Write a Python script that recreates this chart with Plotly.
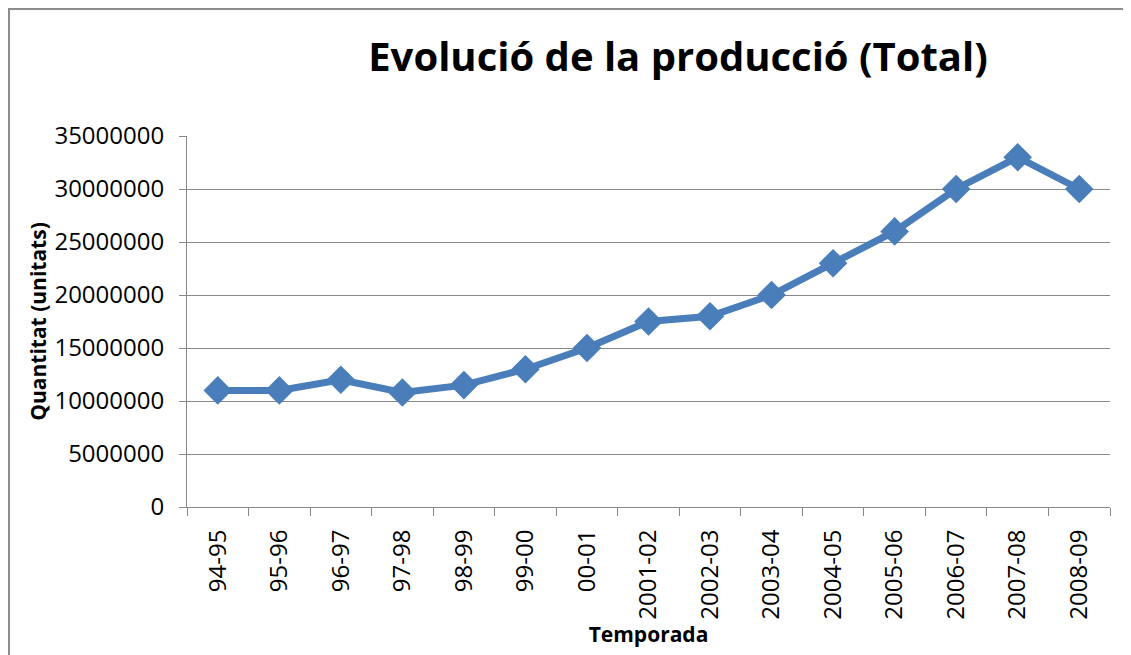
import plotly.graph_objects as go

temporades = ["94-95", "95-96", "96-97", "97-98", "98-99", "99-00", "00-01",
              "2001-02", "2002-03", "2003-04", "2004-05", "2005-06", "2006-07",
              "2007-08", "2008-09"]
quantitat = [11000000, 11000000, 12000000, 10800000, 11500000, 13000000, 15000000,
             17500000, 18000000, 20000000, 23000000, 26000000, 30000000,
             33000000, 30000000]
y_ticks = [0, 5000000, 10000000, 15000000, 20000000, 25000000, 30000000, 35000000]

# page is rendered with an 8px body margin, so figure coords = page coords - 8
W, H = 1131, 655
OFF = 8
ml, mt = 187 - OFF, 136 - OFF
mr = W - (1110 - OFF)
mb = H - (507 - OFF)
pw, ph = W - ml - mr, H - mt - mb

def px_x(x):
    return (x - OFF - ml) / pw

def px_y(y):
    return (H - mb - (y - OFF)) / ph

fig = go.Figure()
fig.add_trace(go.Scatter(
    x=temporades, y=quantitat, mode="lines+markers",
    line=dict(color="#4a7ebb", width=7),
    marker=dict(symbol="diamond", size=22, color="#4a7ebb"),
    showlegend=False, hoverinfo="x+y", cliponaxis=False,
))

grid = "#888888"
fig.update_layout(
    width=W, height=H,
    margin=dict(l=ml, r=mr, t=mt, b=mb),
    paper_bgcolor="white", plot_bgcolor="white",
    title=dict(text="<b>Evolució de la producció (Total)</b>",
               font=dict(family="Open Sans", size=40, color="black"),
               x=px_x(678), xref="paper", xanchor="center",
               y=(H - (57 - OFF)) / H, yanchor="middle"),
    font=dict(family="Open Sans", color="black"),
    xaxis=dict(
        type="category", range=[-0.5, len(temporades) - 0.5],
        tickson="boundaries", ticks="outside", ticklen=8,
        tickcolor=grid, showline=True, linecolor=grid, linewidth=1,
        showgrid=False, tickangle=-90, ticklabelstandoff=12,
        tickfont=dict(family="Open Sans", size=24, color="black"),
        title=dict(text="<b>Temporada</b>", font=dict(family="Open Sans", size=21),
                   standoff=2),
    ),
    yaxis=dict(
        range=[0, 35000000], tickvals=y_ticks,
        ticktext=[str(v) for v in y_ticks],
        ticks="outside", ticklen=7, tickcolor=grid,
        showline=True, linecolor=grid, linewidth=1, ticklabelstandoff=10,
        showgrid=True, gridcolor=grid, gridwidth=1, zeroline=False,
        tickfont=dict(family="Open Sans", size=24, color="black"),
        title=dict(text="<b>Quantitat (unitats)</b>",
                   font=dict(family="Open Sans", size=21), standoff=2),
    ),
    shapes=[dict(type="rect", xref="paper", yref="paper",
                 x0=px_x(9), x1=px_x(1150), y0=px_y(670), y1=px_y(9),
                 line=dict(color="#8c8c8c", width=2), layer="below")],
)

fig.write_html("out.html")
